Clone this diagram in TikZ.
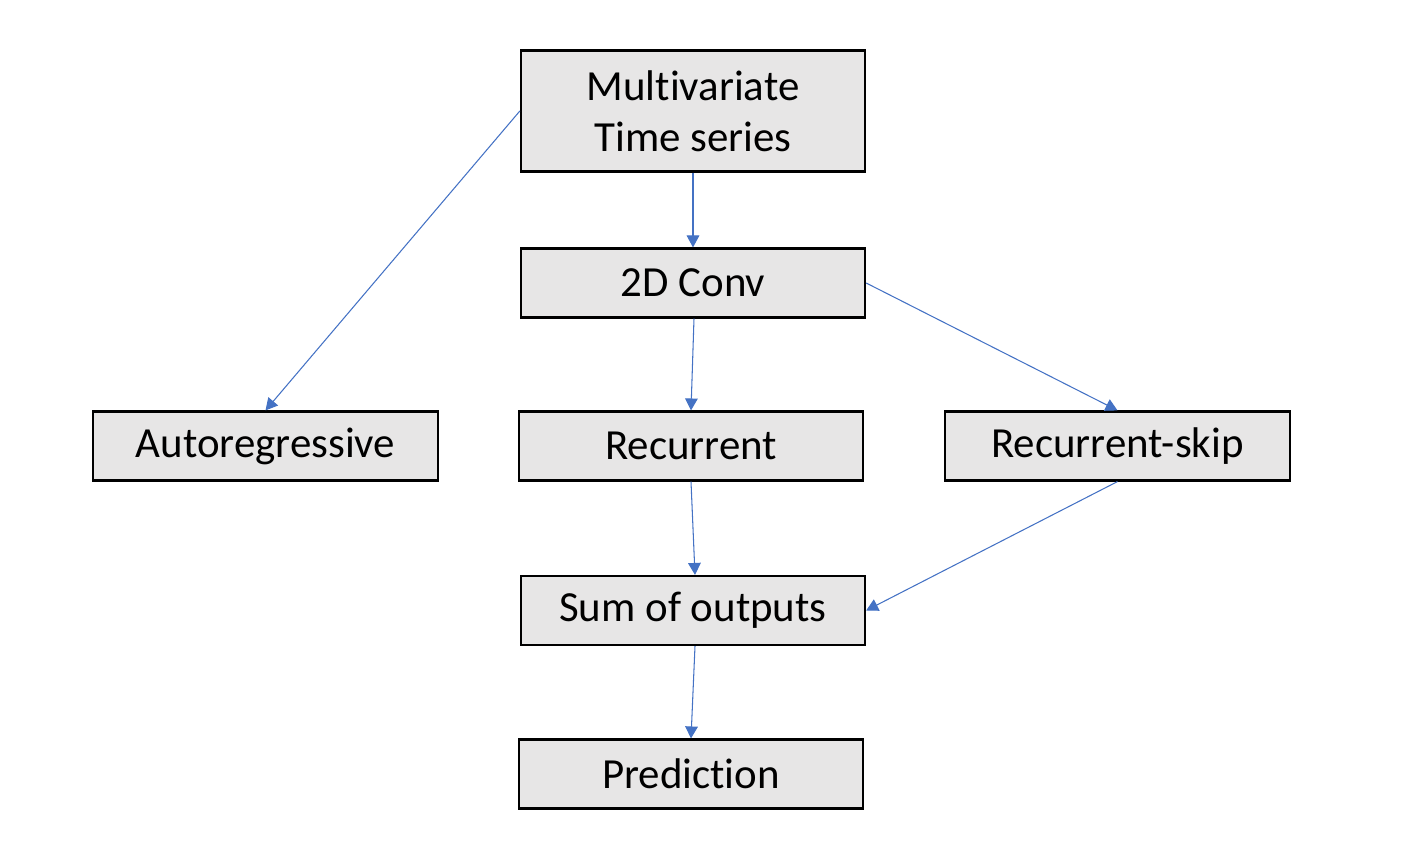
\documentclass[tikz,border=0pt]{standalone}
\usepackage{fontspec}
\setmainfont{Carlito}[Ligatures=NoCommon]
\usepackage{xcolor}
\usetikzlibrary{arrows.meta, positioning}
\definecolor{boxGray}{HTML}{E7E6E6}
\definecolor{lineBlue}{HTML}{4472C4}

\begin{document}
\begin{tikzpicture}[
        x=0.01cm, y=-0.01cm,
        font=\fontsize{12.2}{14.6}\selectfont,
        block/.style={rectangle, draw=black, line width=0.6pt, fill=boxGray, minimum height=0.69cm, minimum width=3.44cm, align=center, inner sep=0pt},
        tall/.style={block, minimum height=1.21cm},
        arrow/.style={draw=lineBlue, line width=0.3pt, -{Triangle[length=3.4pt, width=3.6pt]}}
    ]
        \useasboundingbox (0,0) rectangle (1408,852);

        % --- input and convolution ---
        \node[tall]  (ts)   at (693, 111) {Multivariate\\Time series};
        \node[block] (conv) at (693, 283) {2D Conv};

        % --- middle row ---
        \node[block] (ar)   at (265.5, 446) {Autoregressive};
        \node[block] (rec)  at (691, 446) {Recurrent};
        \node[block] (skip) at (1117.5, 446) {Recurrent-skip};

        % --- output ---
        \node[block] (sum)  at (693, 610.5) {Sum of outputs};
        \node[block] (pred) at (691, 774) {Prediction};

        \draw[arrow] (ts.west) -- (ar.north);
        \draw[arrow] (ts.south) -- (conv.north);
        \draw[arrow] ([xshift=0.01cm]conv.south) -- (rec.north);
        \draw[arrow] (conv.east) -- (skip.north);
        \draw[arrow] (rec.south) -- ([xshift=0.02cm]sum.north);
        \draw[arrow] (skip.south) -- (sum.east);
        \draw[arrow] ([xshift=0.02cm]sum.south) -- (pred.north);
    \end{tikzpicture}
\end{document}
